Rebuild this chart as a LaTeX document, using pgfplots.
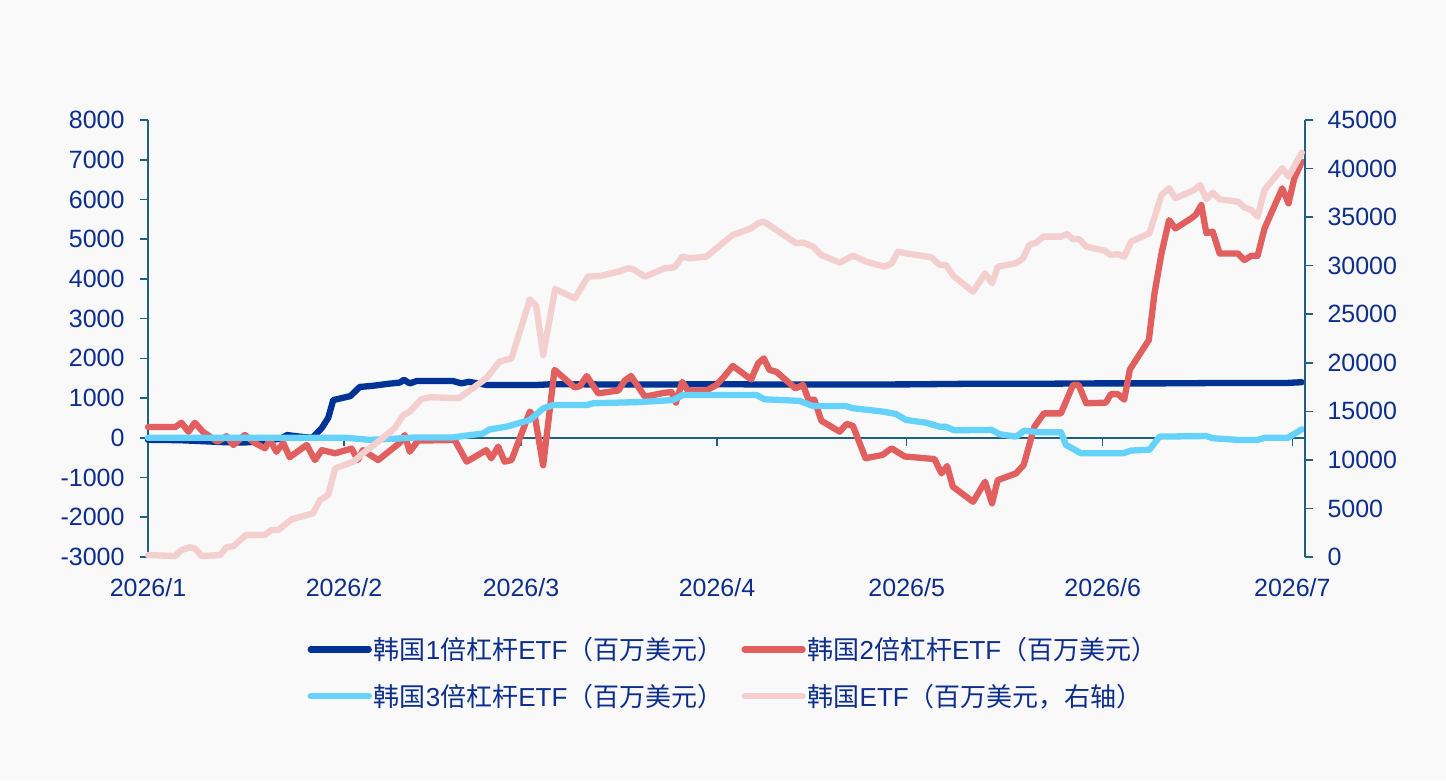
\documentclass[border=0pt]{standalone}
\usepackage{pgfplots}
\pgfplotsset{compat=1.18}
\usepackage{fontspec}
\setmainfont{Liberation Sans}
\newfontfamily\cjk{Noto Sans CJK SC}
\newcommand\C[1]{{\cjk #1}}
\newcommand\fs{\fontsize{25}{30}\selectfont}
\newcommand\lfs{\fontsize{26}{31}\selectfont}
\definecolor{bg}{RGB}{249,249,249}
\definecolor{axc}{RGB}{31,97,128}
\definecolor{txt}{RGB}{13,46,140}
\definecolor{c1}{RGB}{0,51,148}
\definecolor{c2}{RGB}{225,95,95}
\definecolor{c3}{RGB}{100,210,250}
\definecolor{c4}{RGB}{244,207,207}
\pgfplotsset{
  base/.style={at={(148pt,223pt)}, anchor=south west, width=1157pt, height=437pt,
    scale only axis, xmin=0, xmax=183, clip=false,
    tick align=outside, major tick length=8pt,
    scaled y ticks=false,
    every tick label/.append style={font=\fs, text=txt},
    axis line style={-}},
  ser/.style={line width=6.3pt, line join=round, line cap=round},
}
\begin{document}
\begin{tikzpicture}
\path[fill=bg, use as bounding box] (0,0) rectangle (1446pt,780pt);
% zero line with month ticks
\begin{axis}[at={(148pt,342.2pt)}, anchor=south west, width=1157pt, height=50pt,
  scale only axis, xmin=0, xmax=183, ymin=0, ymax=1,
  axis x line*=bottom, axis y line=none,
  x axis line style={draw=axc, line width=1.6pt, -},
  xtick={31,59,90,120,151,181}, xticklabels={}, tick align=outside, major tick length=8pt,
  xtick style={draw=axc, line width=1.6pt}]
\end{axis}
% left axis
\begin{axis}[base, ymin=-3000, ymax=8000,
  axis y line*=left, axis x line*=bottom,
  x axis line style={draw=none},
  y axis line style={draw=axc, line width=1.6pt, -},
  ytick={-3000,-2000,-1000,0,1000,2000,3000,4000,5000,6000,7000,8000},
  yticklabels={-3000,-2000,-1000,0,1000,2000,3000,4000,5000,6000,7000,8000},
  ytick style={draw=axc, line width=1.6pt},
  xtick={0,31,59,90,120,151,181},
  xticklabels={2026/1,2026/2,2026/3,2026/4,2026/5,2026/6,2026/7},
  xtick style={draw=none},
  yticklabel style={xshift=-12pt},
  xticklabel style={yshift=-10pt}]
\addplot[ser, c1] coordinates {(0,-50) (5,-60) (8,-80) (12,-110) (15,-120) (18,-90) (21,-20) (22,70) (24,30) (26,0) (27.5,250) (28.5,500) (29.3,950) (32,1050) (33.5,1280) (35.6,1310) (38,1360) (39.8,1390) (40.5,1460) (41.4,1370) (42.5,1430) (48.2,1430) (49.6,1370) (50.7,1410) (53.6,1330) (61.5,1330) (64,1350) (70,1345) (80,1340) (90,1350) (100,1340) (120,1345) (130,1360) (140,1360) (150,1370) (160,1370) (170,1380) (180,1380) (182.5,1400)};
\addplot[ser, c2] coordinates {(0,270) (4.3,270) (5.3,380) (6.4,150) (7.4,380) (8.7,150) (11,-100) (12.4,40) (13.5,-180) (15.3,70) (16.9,-130) (18.5,-265) (19.3,-50) (20.3,-350) (21.4,-130) (22.4,-490) (25.1,-180) (26.4,-560) (27.5,-310) (29.6,-390) (32.2,-270) (33.2,-560) (34,-310) (36.4,-560) (39.8,-130) (40.6,70) (41.4,-350) (42.7,-70) (48.5,-55) (50.4,-600) (53.5,-310) (54.3,-515) (55.4,-220) (56.4,-600) (57.5,-560) (60.4,660) (61.2,530) (62.5,-690) (64.3,1710) (67.5,1270) (68.3,1300) (69.4,1555) (71.2,1120) (74.4,1190) (75.4,1440) (76.4,1555) (78.6,1035) (81.7,1135) (82.8,1150) (83.5,885) (84.5,1410) (85.4,1190) (88.3,1190) (89.9,1330) (91.2,1555) (92.5,1810) (95.4,1470) (96.5,1875) (97.4,2000) (98.3,1710) (99.4,1660) (102.4,1245) (103.6,1330) (104.5,950) (105.4,960) (106.5,430) (109.4,155) (110.5,350) (111.5,300) (113.5,-515) (116.2,-430) (117.6,-265) (119.7,-470) (124.4,-535) (125.5,-895) (126.4,-710) (127.3,-1230) (130.5,-1610) (132.4,-1105) (133.5,-1650) (134.4,-1065) (137.3,-895) (138.5,-685) (140.2,280) (141.7,615) (144.4,615) (146.3,1330) (147.2,1330) (148.4,870) (151.5,885) (152.3,1100) (153.4,1100) (154.4,960) (155.3,1720) (158.3,2460) (159.2,3640) (160.3,4640) (161.5,5480) (162.5,5270) (165,5525) (165.7,5610) (166.6,5860) (167.4,5150) (168.4,5190) (169.5,4640) (172.4,4640) (173.4,4475) (174.5,4580) (175.5,4580) (176.6,5270) (179.4,6280) (180.4,5900) (181.3,6530) (182.5,6950)};
\addplot[ser, c3] coordinates {(0,0) (31.4,0) (35,-50) (38,-30) (42.5,10) (48.2,10) (53,110) (54,210) (56.7,280) (60.4,450) (62.5,740) (64.1,825) (69.4,825) (70.4,870) (77.8,900) (83,950) (84.6,1080) (96.2,1080) (97.5,970) (103,930) (105.2,800) (110.4,800) (111.5,745) (116.2,660) (118.3,600) (119.9,450) (123.1,380) (125.2,280) (126.2,280) (127.5,190) (133.4,200) (134.7,90) (137.3,30) (138.6,180) (141,140) (144.4,140) (145.2,-180) (147.6,-390) (154.2,-390) (155.5,-320) (158.4,-300) (160,30) (167.4,45) (168.4,-10) (172.6,-55) (175.5,-55) (176.6,0) (180.3,0) (182.5,215)};
\end{axis}
% right axis
\begin{axis}[base, ymin=0, ymax=45000,
  axis y line*=right, axis x line=none,
  y axis line style={draw=axc, line width=1.6pt, -},
  ytick={0,5000,10000,15000,20000,25000,30000,35000,40000,45000},
  yticklabels={0,5000,10000,15000,20000,25000,30000,35000,40000,45000},
  ytick style={draw=axc, line width=1.6pt},
  yticklabel style={xshift=11pt},
  legend columns=2,
  legend style={at={(0.506,-0.265)}, anchor=center, draw=none, fill=none,
    font=\lfs, text=txt, row sep=19pt,
    /tikz/every even column/.append style={column sep=16pt}},
  legend cell align=left,
  legend image code/.code={\draw[#1, line cap=round] (3pt,0pt) -- (61pt,0pt);}]
\addlegendimage{c1, line width=6.3pt}
\addlegendentry{\C{韩国}1\C{倍杠杆}ETF\C{（百万美元）}}
\addlegendimage{c2, line width=6.3pt}
\addlegendentry{\C{韩国}2\C{倍杠杆}ETF\C{（百万美元）}}
\addlegendimage{c3, line width=6.3pt}
\addlegendentry{\C{韩国}3\C{倍杠杆}ETF\C{（百万美元）}}
\addplot[ser, c4] coordinates {(0,200) (4.3,100) (5.3,720) (6.6,1000) (7.4,900) (8.5,100) (11.4,200) (12.4,1000) (13.5,1100) (15.5,2270) (18.5,2270) (19.5,2780) (20.6,2780) (22.7,3880) (26.1,4500) (27.2,5870) (28.5,6380) (29.6,9130) (32.5,9820) (34,10680) (36.4,11880) (39,13250) (40.4,14620) (41.4,14960) (43.2,16240) (44.6,16450) (49.1,16350) (49.9,16680) (53.5,18400) (55.6,20110) (57.5,20460) (60.4,26540) (61.4,25850) (62.5,20800) (64.4,27600) (67.5,26640) (69.6,28870) (71.5,28940) (74.4,29380) (75.9,29730) (76.7,29650) (78.6,28870) (81.7,29730) (83.3,29830) (84.5,30930) (85.7,30760) (88.3,30930) (89.9,31790) (92.5,33160) (95.4,33850) (96.5,34370) (97.4,34540) (99.4,33680) (102.5,32310) (103.6,32380) (105.2,31960) (106.5,31100) (109.4,30310) (111.5,31030) (113.6,30410) (116.5,29900) (117.6,30210) (118.6,31440) (119.9,31270) (123.9,30860) (125.2,30070) (126.2,30070) (127.4,28940) (130.5,27320) (132.4,29210) (133.5,28190) (134.4,29900) (137.3,30250) (138.4,30760) (139.4,32130) (140.5,32380) (141.6,32990) (144.4,32990) (145.4,33260) (146.3,32720) (147.3,32720) (148.4,31960) (151.3,31550) (152.3,31100) (153.4,31200) (154.4,30930) (155.5,32470) (158.4,33340) (160.3,37280) (161.5,37970) (162.5,36940) (165.5,37800) (166.4,38310) (167.4,36840) (168.4,37520) (169.5,36840) (172.4,36590) (173.4,36010) (174.5,35740) (175.5,35050) (176.6,37800) (179.4,40030) (180.4,39170) (182.5,41640)};
\addlegendentry{\C{韩国}ETF\C{（百万美元，右轴）}}
\end{axis}
\end{tikzpicture}
\end{document}
